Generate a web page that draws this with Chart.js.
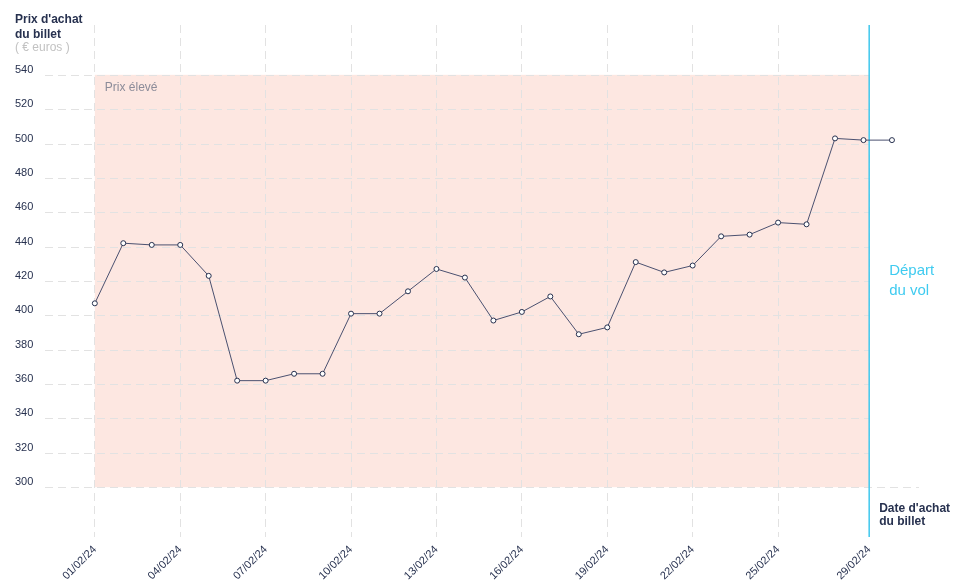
<!DOCTYPE html>
<html>
<head>
<meta charset="utf-8">
<script src="https://cdn.jsdelivr.net/npm/chart.js@4"></script>
<style>
  html, body { margin: 0; padding: 0; background: #fff; }
  #wrap { width: 958px; height: 585px; position: relative; }
</style>
</head>
<body>
<div id="wrap"><canvas id="myChart"></canvas></div>
<script>
// Data
const dates = ['01/02/24', '02/02/24', '03/02/24', '04/02/24', '05/02/24', '06/02/24', '07/02/24',
  '08/02/24', '09/02/24', '10/02/24', '11/02/24', '12/02/24', '13/02/24', '14/02/24', '15/02/24',
  '16/02/24', '17/02/24', '18/02/24', '19/02/24', '20/02/24', '21/02/24', '22/02/24', '23/02/24',
  '24/02/24', '25/02/24', '26/02/24', '27/02/24', '28/02/24', '29/02/24'];
const prices = [407, 442, 441, 441, 423, 362, 362, 366, 366, 401, 401, 414, 427, 422, 397,
  402, 411, 389, 393, 431, 425, 429, 446, 447, 454, 453, 503, 502, 502];
const yTicks = [300, 320, 340, 360, 380, 400, 420, 440, 460, 480, 500, 520, 540];
const xTickDays = [0, 3, 6, 9, 12, 15, 18, 21, 24, 27.2];
const xTickLabels = ['01/02/24', '04/02/24', '07/02/24', '10/02/24', '13/02/24', '16/02/24',
  '19/02/24', '22/02/24', '25/02/24', '29/02/24'];
const departureDay = 27.2;
const highPrice = [300, 540];

const navy = '#27314f';
const gridColor = '#e2e2e2';
const font = 'Liberation Sans';

// Bande "prix élevé", grille horizontale, ligne de départ et textes
const decor = {
  id: 'decor',
  beforeDraw(chart) {
    const { ctx, chartArea, scales: { x, y } } = chart;
    const x0 = x.getPixelForValue(0);
    const x1 = x.getPixelForValue(departureDay);
    const yTop = y.getPixelForValue(highPrice[1]);
    const yBot = y.getPixelForValue(highPrice[0]);
    ctx.save();
    ctx.fillStyle = '#fde7e1';
    ctx.fillRect(x0, yTop, x1 - x0, yBot - yTop);
    ctx.restore();
  },
  beforeDatasetsDraw(chart) {
    const { ctx, chartArea, scales: { x, y } } = chart;
    const xDep = x.getPixelForValue(departureDay);
    ctx.save();
    ctx.strokeStyle = gridColor;
    ctx.lineWidth = 1;
    ctx.setLineDash([8, 5]);
    yTicks.forEach(v => {
      const py = Math.round(y.getPixelForValue(v)) + 0.5;
      const right = v === yTicks[0] ? chartArea.right : xDep;
      ctx.beginPath();
      ctx.moveTo(chartArea.left, py);
      ctx.lineTo(right, py);
      ctx.stroke();
    });
    ctx.setLineDash([]);
    ctx.strokeStyle = '#3fc8ee';
    ctx.lineWidth = 1.5;
    ctx.beginPath();
    ctx.moveTo(xDep, chartArea.top);
    ctx.lineTo(xDep, chartArea.bottom);
    ctx.stroke();
    ctx.restore();
  },
  afterDraw(chart) {
    const { ctx, scales: { x, y } } = chart;
    const xDep = x.getPixelForValue(departureDay);
    ctx.save();
    ctx.textBaseline = 'alphabetic';
    ctx.textAlign = 'left';
    // titre axe Y
    ctx.fillStyle = navy;
    ctx.font = 'bold 12px "' + font + '"';
    ctx.fillText("Prix d'achat", 15, 23);
    ctx.fillText('du billet', 15, 38);
    ctx.fillStyle = '#c2c2c2';
    ctx.font = '12px "' + font + '"';
    ctx.fillText('( € euros )', 15, 51);
    // titre axe X
    ctx.fillStyle = navy;
    ctx.font = 'bold 12px "' + font + '"';
    ctx.fillText("Date d'achat", xDep + 10, 512);
    ctx.fillText('du billet', xDep + 10, 525);
    // libellé bande
    ctx.fillStyle = '#8c8c99';
    ctx.font = '12px "' + font + '"';
    ctx.fillText('Prix élevé', x.getPixelForValue(0) + 10, y.getPixelForValue(highPrice[1]) + 16);
    // départ du vol
    ctx.fillStyle = '#3fcbf0';
    ctx.font = '15px "' + font + '"';
    ctx.fillText('Départ', xDep + 20, 275);
    ctx.fillText('du vol', xDep + 20, 295);
    ctx.restore();
  }
};

const config = {
  type: 'line',
  data: {
    datasets: [{
      label: "Prix d'achat",
      data: prices.map((p, i) => ({ x: i, y: p })),
      borderColor: '#4b5170',
      borderWidth: 1,
      pointRadius: 2.5,
      pointBackgroundColor: '#ffffff',
      pointBorderColor: navy,
      pointBorderWidth: 1,
      tension: 0,
      fill: false
    }]
  },
  options: {
    responsive: true,
    maintainAspectRatio: false,
    animation: false,
    layout: { padding: { top: 25, left: 15, right: 39, bottom: 0 } },
    plugins: {
      legend: { display: false },
      tooltip: { enabled: false }
    },
    scales: {
      x: {
        type: 'linear',
        min: -1.75,
        max: 28.95,
        afterBuildTicks: scale => { scale.ticks = xTickDays.map(v => ({ value: v })); },
        afterFit: scale => { scale.height = 48; },
        grid: { color: gridColor, drawTicks: false },
        border: { display: false, dash: [8, 5] },
        ticks: {
          autoSkip: false,
          maxRotation: 45,
          minRotation: 45,
          padding: 6,
          color: navy,
          font: { family: font, size: 11 },
          callback: (v, i) => xTickLabels[i]
        }
      },
      y: {
        min: 271,
        max: 569,
        afterBuildTicks: scale => { scale.ticks = yTicks.map(v => ({ value: v })); },
        afterFit: scale => { scale.width = 30; },
        grid: { display: false },
        border: { display: false },
        ticks: {
          crossAlign: 'far',
          labelOffset: -5,
          color: navy,
          font: { family: font, size: 11 }
        }
      }
    }
  },
  plugins: [decor]
};

var myChart = new Chart(document.getElementById('myChart'), config);
</script>
</body>
</html>
